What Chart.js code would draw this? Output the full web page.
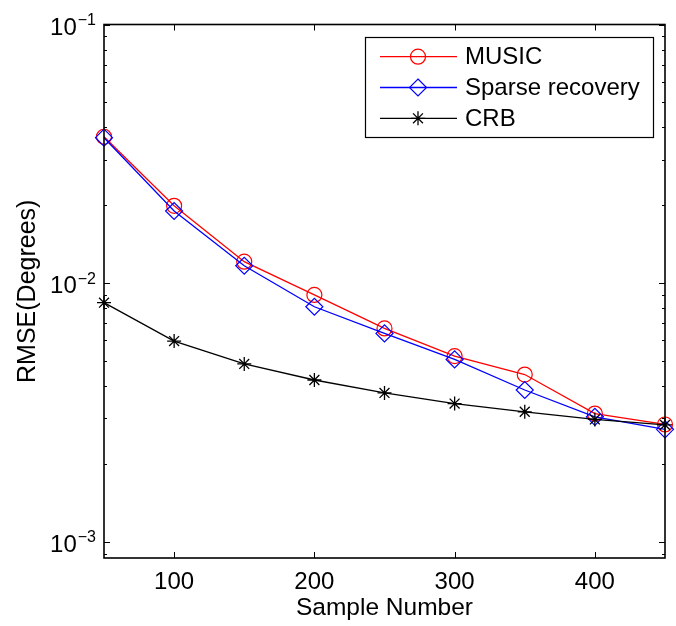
<!DOCTYPE html>
<html>
<head>
<meta charset="utf-8">
<title>RMSE vs Sample Number</title>
<script src="https://cdn.jsdelivr.net/npm/chart.js@4.4.1/dist/chart.umd.min.js"></script>
<style>
  body { margin: 0; background: #fff; }
  canvas { display: block; }
</style>
</head>
<body>
<canvas id="grafica" width="676" height="626"></canvas>
<script>
// values
const sampleNumbers = [50, 100, 150, 200, 250, 300, 350, 400, 450];
const music = [0.0368, 0.0199, 0.0121, 0.0090, 0.00668, 0.00522, 0.00443, 0.00313, 0.00284];
const sparse = [0.0365, 0.0190, 0.01167, 0.0081, 0.00639, 0.00507, 0.00386, 0.00304, 0.00272];
const crb = [0.0084, 0.00597, 0.00487, 0.00422, 0.00376, 0.00342, 0.00318, 0.00297, 0.00283];

const xTicks = [100, 200, 300, 400];
const yTicks = [0.001, 0.01, 0.1];
const yTickExp = ['\u22123', '\u22122', '\u22121'];

const FONT = 'Liberation Sans, Arial, Helvetica, sans-serif';

function pts(ys) {
  return sampleNumbers.map((x, i) => ({ x: x, y: ys[i] }));
}

// ticks inside the box, box outline, y labels with superscript, legend
const matlabAxes = {
  id: 'matlabAxes',
  afterDraw(chart) {
    const ctx = chart.ctx;
    const a = chart.chartArea;
    const xs = chart.scales.x;
    const ys = chart.scales.y;
    ctx.save();
    ctx.strokeStyle = '#000';
    ctx.lineWidth = 1;

    // x ticks top + bottom
    xTicks.forEach(v => {
      const px = Math.round(xs.getPixelForValue(v)) + 0.5;
      ctx.beginPath();
      ctx.moveTo(px, a.bottom); ctx.lineTo(px, a.bottom - 6);
      ctx.moveTo(px, a.top); ctx.lineTo(px, a.top + 6);
      ctx.stroke();
    });

    // y ticks, major and minor, left + right
    for (let e = -4; e <= -1; e++) {
      for (let m = 1; m <= 9; m++) {
        const v = m * Math.pow(10, e);
        if (v < ys.min || v > ys.max) continue;
        const py = Math.round(ys.getPixelForValue(v)) + 0.5;
        const len = m === 1 ? 6 : 3;
        ctx.beginPath();
        ctx.moveTo(a.left, py); ctx.lineTo(a.left + len, py);
        ctx.moveTo(a.right, py); ctx.lineTo(a.right - len, py);
        ctx.stroke();
      }
    }

    // box
    ctx.lineWidth = 1.6;
    ctx.strokeRect(a.left, a.top, a.right - a.left, a.bottom - a.top);

    // y tick labels 10^-n
    ctx.fillStyle = '#000';
    ctx.textBaseline = 'alphabetic';
    ctx.textAlign = 'left';
    yTicks.forEach((v, i) => {
      const py = ys.getPixelForValue(v);
      ctx.font = '16px ' + FONT;
      const wExp = ctx.measureText(yTickExp[i]).width;
      ctx.font = '24px ' + FONT;
      const wBase = ctx.measureText('10').width;
      const right = a.left - 8;
      ctx.fillText('10', right - wExp - wBase - 1, py + 10);
      ctx.font = '16px ' + FONT;
      ctx.fillText(yTickExp[i], right - wExp, py + 0.5);
    });

    // legend
    const lx = 365, ly = 37, lw = 288, lh = 100;
    ctx.fillStyle = '#fff';
    ctx.fillRect(lx, ly, lw, lh);
    ctx.lineWidth = 1.2;
    ctx.strokeStyle = '#000';
    ctx.strokeRect(lx + 0.5, ly + 0.5, lw, lh);
    const rows = [56.7, 87.5, 118.3];
    chart.data.datasets.forEach((ds, i) => {
      const y = rows[i];
      ctx.strokeStyle = ds.borderColor;
      ctx.lineWidth = ds.borderWidth;
      ctx.beginPath();
      ctx.moveTo(380, y); ctx.lineTo(457, y);
      ctx.stroke();
      const cx = 418;
      const r = ds.pointRadius;
      ctx.lineWidth = ds.pointBorderWidth;
      ctx.beginPath();
      if (ds.pointStyle === 'circle') {
        ctx.arc(cx, y, r, 0, Math.PI * 2);
      } else if (ds.pointStyle === 'rectRot') {
        ctx.moveTo(cx, y - r); ctx.lineTo(cx + r, y);
        ctx.lineTo(cx, y + r); ctx.lineTo(cx - r, y); ctx.closePath();
      } else {
        for (let k = 0; k < 4; k++) {
          const ang = k * Math.PI / 4;
          ctx.moveTo(cx + r * Math.cos(ang), y + r * Math.sin(ang));
          ctx.lineTo(cx - r * Math.cos(ang), y - r * Math.sin(ang));
        }
      }
      ctx.stroke();
      ctx.fillStyle = '#000';
      ctx.font = '24px ' + FONT;
      ctx.textBaseline = 'middle';
      ctx.fillText(ds.label, 465, y + 1);
    });
    ctx.restore();
  }
};

new Chart(document.getElementById('grafica'), {
  type: 'line',
  data: {
    datasets: [
      {
        label: 'MUSIC',
        data: pts(music),
        borderColor: '#ff0000',
        backgroundColor: 'rgba(0,0,0,0)',
        borderWidth: 1.3,
        pointStyle: 'circle',
        pointRadius: 7.5,
        pointBorderWidth: 1.2,
        pointBorderColor: '#ff0000',
        pointBackgroundColor: 'rgba(0,0,0,0)',
        clip: false,
        order: 3
      },
      {
        label: 'Sparse recovery',
        data: pts(sparse),
        borderColor: '#0000ff',
        backgroundColor: 'rgba(0,0,0,0)',
        borderWidth: 1.3,
        pointStyle: 'rectRot',
        pointRadius: 8.5,
        pointBorderWidth: 1.2,
        pointBorderColor: '#0000ff',
        pointBackgroundColor: 'rgba(0,0,0,0)',
        clip: false,
        order: 2
      },
      {
        label: 'CRB',
        data: pts(crb),
        borderColor: '#000000',
        backgroundColor: 'rgba(0,0,0,0)',
        borderWidth: 1.3,
        pointStyle: 'star',
        pointRadius: 7,
        pointBorderWidth: 1.3,
        pointBorderColor: '#000000',
        pointBackgroundColor: 'rgba(0,0,0,0)',
        clip: false,
        order: 1
      }
    ]
  },
  options: {
    responsive: false,
    animation: false,
    devicePixelRatio: 1,
    layout: { padding: { top: 24.5, right: 11, left: 0, bottom: 0 } },
    plugins: { legend: { display: false }, tooltip: { enabled: false } },
    scales: {
      x: {
        type: 'linear',
        min: 50,
        max: 450,
        grid: { display: false },
        border: { display: false },
        afterBuildTicks(scale) {
          scale.ticks = xTicks.map(v => ({ value: v }));
        },
        afterFit(scale) { scale.height = 68; },
        ticks: {
          color: '#000',
          padding: 2,
          maxRotation: 0,
          font: { family: FONT, size: 24 }
        },
        title: {
          display: true,
          text: 'Sample Number',
          color: '#000',
          padding: 3,
          font: { family: FONT, size: 24.5 }
        }
      },
      y: {
        type: 'logarithmic',
        min: 0.000865,
        max: 0.1,
        grid: { display: false },
        border: { display: false },
        ticks: { display: false },
        afterFit(scale) { scale.width = 104; },
        title: {
          display: true,
          text: 'RMSE(Degrees)',
          color: '#000',
          padding: 13,
          font: { family: FONT, size: 25 }
        }
      }
    }
  },
  plugins: [matlabAxes]
});
</script>
</body>
</html>
